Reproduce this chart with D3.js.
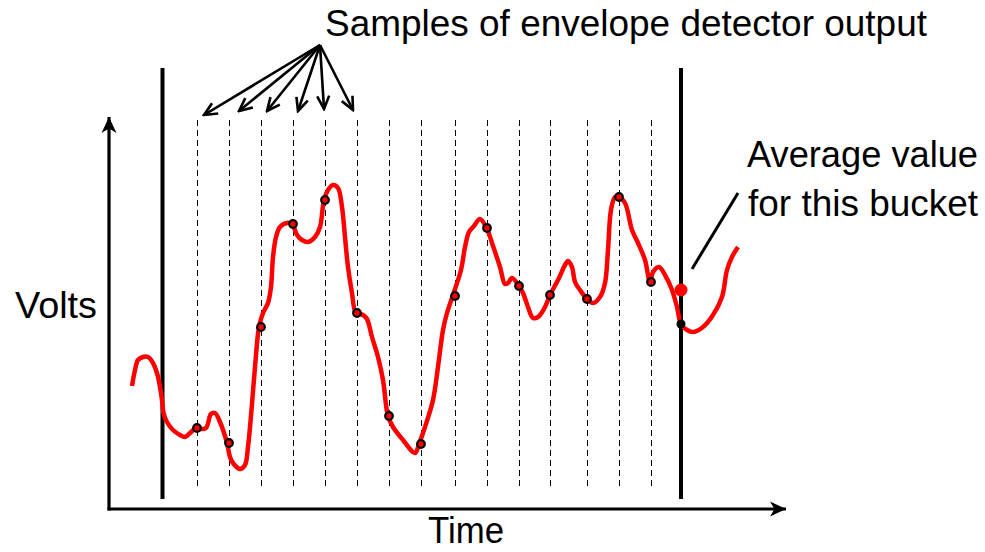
<!DOCTYPE html>
<html>
<head>
<meta charset="utf-8">
<script src="https://cdn.jsdelivr.net/npm/d3@7"></script>
<style>
  html, body { margin: 0; padding: 0; background: #fff; }
  svg { display: block; }
  text { font-family: "Liberation Sans", Arial, sans-serif; fill: #000; }
</style>
</head>
<body>
<svg id="chart" width="985" height="552"></svg>
<script>
// ---------------- data ----------------
// envelope detector output (time units, volts units)
const curveTime  = [23,26,29,34,39,44,48,51,53,54.5,58,64,71,76,81,87,91,97,102,106,111,118,121,124,131,136,139,142.5,146,150,154,159,162,164,167,171,178,183,188,193,199,206,211,215,219,224,229,233,236,239,243,247,254,258,263,269,274,279,284,294,306,310,316,324,329,334,338,344,352,356,360,365,371,378,384,391,396,399,403,410,414,419,424,429,436,441,449,456,459,463,466,471,478,484,491,496,499,502,506,510,516,523,529,536,541,544,550,556,563,568,572,578,584,594,604,613,618,623,629];
const curveVolts = [123,139,149,152,152,146,136,122,109,96,87,79,74,72,76,81,80,81,95,96,87,66,52,46,40,44,62,99,142,182,196,206,222,252,272,282,286,285,274,269,267,272,282,309,319,324,321,302,272,242,216,196,194,190,172,152,129,93,82,69,56,65,82,109,142,179,196,214,239,262,277,283,290,280,263,242,225,226,231,223,216,202,191,192,202,214,229,244,248,242,227,219,210,206,212,226,259,299,312,312,306,279,266,249,227,237,242,234,219,202,185,179,177,182,194,212,239,252,262];

// sample instants (dashed lines) and sampled values (circles)
const sampleTimes = [88,120,152,184,216,248,280,312,346,378,410,441,478,510,542];
const sampleVolts = [81,66,182,285,309,196,93,65,213,281,223,214,210,312,227];

// bucket boundaries
const bucketTimes = [53.5, 572];
const bucketEndVolts = 185;     // curve value at the bucket end
const averageVolts = 219;       // average value for this bucket

// pointer arrows from the label to the first samples
const pointerFrom = [211, 464];
const pointerToTime  = [95,130,158,189,215,244];
const pointerToVolts = [394,398,398,398,400,399];

// annotation line for the average value
const avgLineTime  = [629, 583];
const avgLineVolts = [316, 240];

// axis extents
const timeMax = 677, voltsMax = 392;

// labels
const titleLabel = "Samples of envelope detector output";
const avgLabel = ["Average value", "for this bucket"];
const yLabel = "Volts";
const xLabel = "Time";

// ---------------- scales ----------------
const x = d3.scaleLinear().domain([0, timeMax]).range([109, 786]);
const y = d3.scaleLinear().domain([0, voltsMax]).range([509, 117]);

const svg = d3.select("#chart");
const defs = svg.append("defs");

// filled arrowhead for axes
defs.append("marker")
  .attr("id", "axisHead")
  .attr("markerUnits", "userSpaceOnUse")
  .attr("viewBox", "-18 -10 20 20")
  .attr("refX", 0).attr("refY", 0)
  .attr("markerWidth", 20).attr("markerHeight", 20)
  .attr("orient", "auto")
  .append("path")
  .attr("d", "M0,0 L-16,-7.5 L-11.5,0 L-16,7.5 Z")
  .attr("fill", "#000");

// open arrowhead for pointer arrows
defs.append("marker")
  .attr("id", "openHead")
  .attr("markerUnits", "userSpaceOnUse")
  .attr("viewBox", "-16 -8 18 16")
  .attr("refX", 0).attr("refY", 0)
  .attr("markerWidth", 18).attr("markerHeight", 16)
  .attr("orient", "auto")
  .append("path")
  .attr("d", "M-13,-6 L0,0 L-13,6")
  .attr("fill", "none")
  .attr("stroke", "#000")
  .attr("stroke-width", 2.6);

// ---------------- dashed sample lines ----------------
svg.append("g").selectAll("line").data(sampleTimes).join("line")
  .attr("x1", d => Math.round(x(d)) + 0.5).attr("x2", d => Math.round(x(d)) + 0.5)
  .attr("y1", y(389)).attr("y2", y(22))
  .attr("stroke", "#000").attr("stroke-width", 1)
  .attr("stroke-dasharray", "6,4");

// ---------------- bucket boundaries ----------------
svg.append("g").selectAll("line").data(bucketTimes).join("line")
  .attr("x1", d => x(d)).attr("x2", d => x(d))
  .attr("y1", y(441)).attr("y2", y(10))
  .attr("stroke", "#000").attr("stroke-width", 4);

// ---------------- axes ----------------
svg.append("line")
  .attr("x1", x(0) - 1.5).attr("y1", y(0)).attr("x2", x(timeMax)).attr("y2", y(0))
  .attr("stroke", "#000").attr("stroke-width", 3.2)
  .attr("marker-end", "url(#axisHead)");
svg.append("line")
  .attr("x1", x(0)).attr("y1", y(0) + 1.5).attr("x2", x(0)).attr("y2", y(voltsMax))
  .attr("stroke", "#000").attr("stroke-width", 3.2)
  .attr("marker-end", "url(#axisHead)");

// ---------------- envelope curve ----------------
const pts = curveTime.map((t, i) => [t, curveVolts[i]]);
const line = d3.line().x(d => x(d[0])).y(d => y(d[1])).curve(d3.curveCatmullRom.alpha(0.5));
svg.append("path")
  .attr("d", line(pts))
  .attr("fill", "none")
  .attr("stroke", "#ff0000")
  .attr("stroke-width", 4.5)
  .attr("stroke-linejoin", "round")
  .attr("stroke-linecap", "butt");

// ---------------- sample circles ----------------
svg.append("g").selectAll("circle").data(sampleTimes).join("circle")
  .attr("cx", d => x(d))
  .attr("cy", (d, i) => y(sampleVolts[i]))
  .attr("r", 3.8)
  .attr("fill", "#ff0000")
  .attr("stroke", "#000").attr("stroke-width", 2.2);

// bucket end sample and average value
svg.append("circle")
  .attr("cx", x(bucketTimes[1])).attr("cy", y(bucketEndVolts))
  .attr("r", 4.5).attr("fill", "#000");
svg.append("circle")
  .attr("cx", x(bucketTimes[1])).attr("cy", y(averageVolts))
  .attr("r", 6.5).attr("fill", "#ff0000");

// ---------------- pointer arrows ----------------
svg.append("g").selectAll("line").data(pointerToTime).join("line")
  .attr("x1", x(pointerFrom[0])).attr("y1", y(pointerFrom[1]))
  .attr("x2", d => x(d)).attr("y2", (d, i) => y(pointerToVolts[i]))
  .attr("stroke", "#000").attr("stroke-width", 2.6)
  .attr("marker-end", "url(#openHead)");

// average annotation line
svg.append("line")
  .attr("x1", x(avgLineTime[0])).attr("y1", y(avgLineVolts[0]))
  .attr("x2", x(avgLineTime[1])).attr("y2", y(avgLineVolts[1]))
  .attr("stroke", "#000").attr("stroke-width", 3);

// ---------------- text ----------------
svg.append("text").attr("x", 325).attr("y", 36)
  .attr("font-size", 36).attr("textLength", 602).attr("lengthAdjust", "spacingAndGlyphs")
  .text(titleLabel);
svg.append("text").attr("x", 747).attr("y", 167)
  .attr("font-size", 36).attr("textLength", 231).attr("lengthAdjust", "spacingAndGlyphs")
  .text(avgLabel[0]);
svg.append("text").attr("x", 748).attr("y", 216)
  .attr("font-size", 36).attr("textLength", 230).attr("lengthAdjust", "spacingAndGlyphs")
  .text(avgLabel[1]);
svg.append("text").attr("x", 15).attr("y", 318)
  .attr("font-size", 36).attr("textLength", 82).attr("lengthAdjust", "spacingAndGlyphs")
  .text(yLabel);
svg.append("text").attr("x", 428).attr("y", 543)
  .attr("font-size", 36).attr("textLength", 76).attr("lengthAdjust", "spacingAndGlyphs")
  .text(xLabel);
</script>
</body>
</html>
